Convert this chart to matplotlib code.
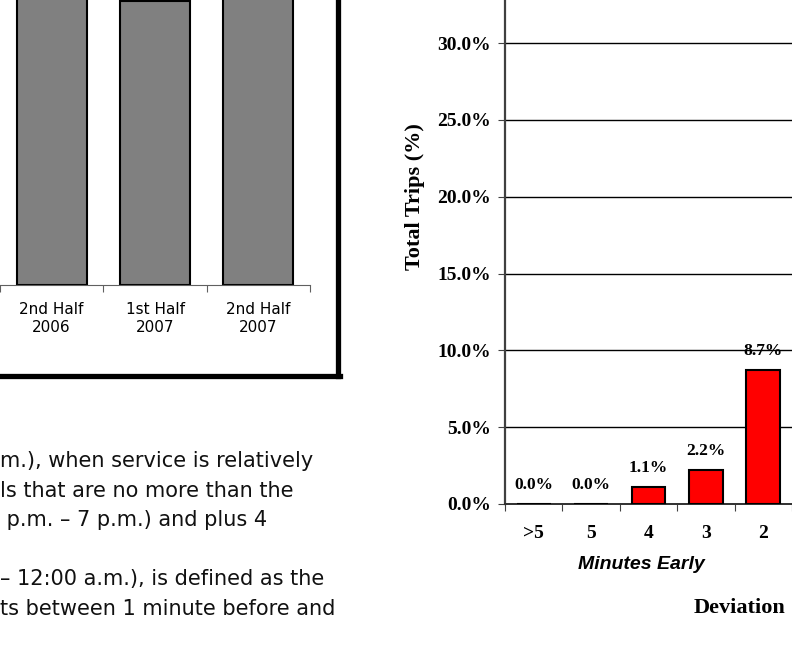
import matplotlib.pyplot as plt
from matplotlib.lines import Line2D

# left chart (half-year comparison, only lower part visible)
periods = ["2nd Half\n2006", "1st Half\n2007", "2nd Half\n2007"]
period_vals = [88.0, 85.4, 87.5]

# right chart (early deviation distribution)
early_cats = [">5", "5", "4", "3", "2"]
early_vals = [0.0, 0.0, 1.1, 2.2, 8.7]
y_ticks = [0, 5, 10, 15, 20, 25, 30]

body_lines = [
    "m.), when service is relatively",
    "ls that are no more than the",
    " p.m. \u2013 7 p.m.) and plus 4",
    "",
    "\u2013 12:00 a.m.), is defined as the",
    "ts between 1 minute before and",
]

W, H = 792, 646
fig = plt.figure(figsize=(W / 100, H / 100), dpi=100)

# ---- left chart
axl = fig.add_axes([0, (H - 285) / H, 310 / W, 332.6 / H])
xl = range(len(periods))
axl.bar(xl, period_vals, width=0.68, color="#808080", edgecolor="black", linewidth=1.5)
axl.set_xlim(-0.5, len(periods) - 0.5)
axl.set_ylim(0, 100)
for s in ["left", "right", "top"]:
    axl.spines[s].set_visible(False)
axl.spines["bottom"].set_color("#606060")
axl.set_yticks([])
axl.set_xticks([i - 0.5 for i in range(len(periods) + 1)])
axl.set_xticklabels([])
axl.tick_params(axis="x", which="major", length=5, color="#606060", direction="out")
axl.set_xticks(list(xl), minor=True)
axl.set_xticklabels(periods, minor=True, fontsize=11, family="DejaVu Sans", linespacing=1.3)
axl.tick_params(axis="x", which="minor", length=0, pad=12)

# shadowed frame around the left chart
fig.add_artist(Line2D([337.5 / W, 337.5 / W], [1, (H - 375.5) / H], color="black",
                      lw=3.8, transform=fig.transFigure))
fig.add_artist(Line2D([0, 339.5 / W], [(H - 375.5) / H, (H - 375.5) / H], color="black",
                      lw=3.8, transform=fig.transFigure))

# body text
for i, line in enumerate(body_lines):
    fig.text(0, (H - (467 + 29.6 * i)) / H, line, fontsize=15, family="DejaVu Sans",
             color="#111111", ha="left", va="baseline")

# ---- right chart
axr = fig.add_axes([505 / W, (H - 504) / H, 287 / W, 614.4 / H])
xr = range(len(early_cats))
bars = axr.bar(xr, early_vals, width=0.59, color="#ff0000", edgecolor="black",
               linewidth=1.5, zorder=3)
axr.set_xlim(-0.5, -0.5 + 287 / 58)
axr.set_ylim(0, 40)
axr.set_yticks(y_ticks)
axr.set_yticklabels([f"{v:.1f}%" for v in y_ticks], fontsize=14,
                    family="Liberation Serif", fontweight="bold")
axr.yaxis.grid(True, color="black", lw=1)
axr.set_axisbelow(True)
for s in ["right", "top"]:
    axr.spines[s].set_visible(False)
axr.spines["left"].set_color("#404040")
axr.spines["left"].set_linewidth(1.6)
axr.spines["bottom"].set_color("#303030")
axr.spines["bottom"].set_linewidth(1.4)
axr.tick_params(axis="y", length=5, color="#404040", pad=5)
axr.set_xticks([i - 0.5 for i in range(len(early_cats) + 1)])
axr.set_xticklabels([])
axr.tick_params(axis="x", which="major", length=5, color="#404040", direction="out")
axr.set_xticks(list(xr), minor=True)
axr.set_xticklabels(early_cats, minor=True, fontsize=14, family="Liberation Serif",
                    fontweight="bold")
axr.tick_params(axis="x", which="minor", length=0, pad=15)

for b, v in zip(bars, early_vals):
    axr.annotate(f"{v:.1f}%", (b.get_x() + b.get_width() / 2, v), xytext=(0, 8),
                 textcoords="offset points", ha="center", va="bottom", fontsize=12.5,
                 family="Liberation Serif", fontweight="bold")

axr.set_ylabel("Total Trips (%)", fontsize=16, family="Liberation Serif", fontweight="bold")
axr.yaxis.set_label_coords(-0.28, 0.5)

tx = axr.get_xaxis_transform()
axr.text(1.88, -0.099, "Minutes Early", transform=tx, ha="center",
         va="center", fontsize=14, family="Liberation Sans", fontweight="bold", style="italic")
axr.text(3.59, -0.169, "Deviation", transform=tx, ha="center", va="center", fontsize=16,
         family="Liberation Serif", fontweight="bold")

fig.savefig("out.png", dpi=100)
